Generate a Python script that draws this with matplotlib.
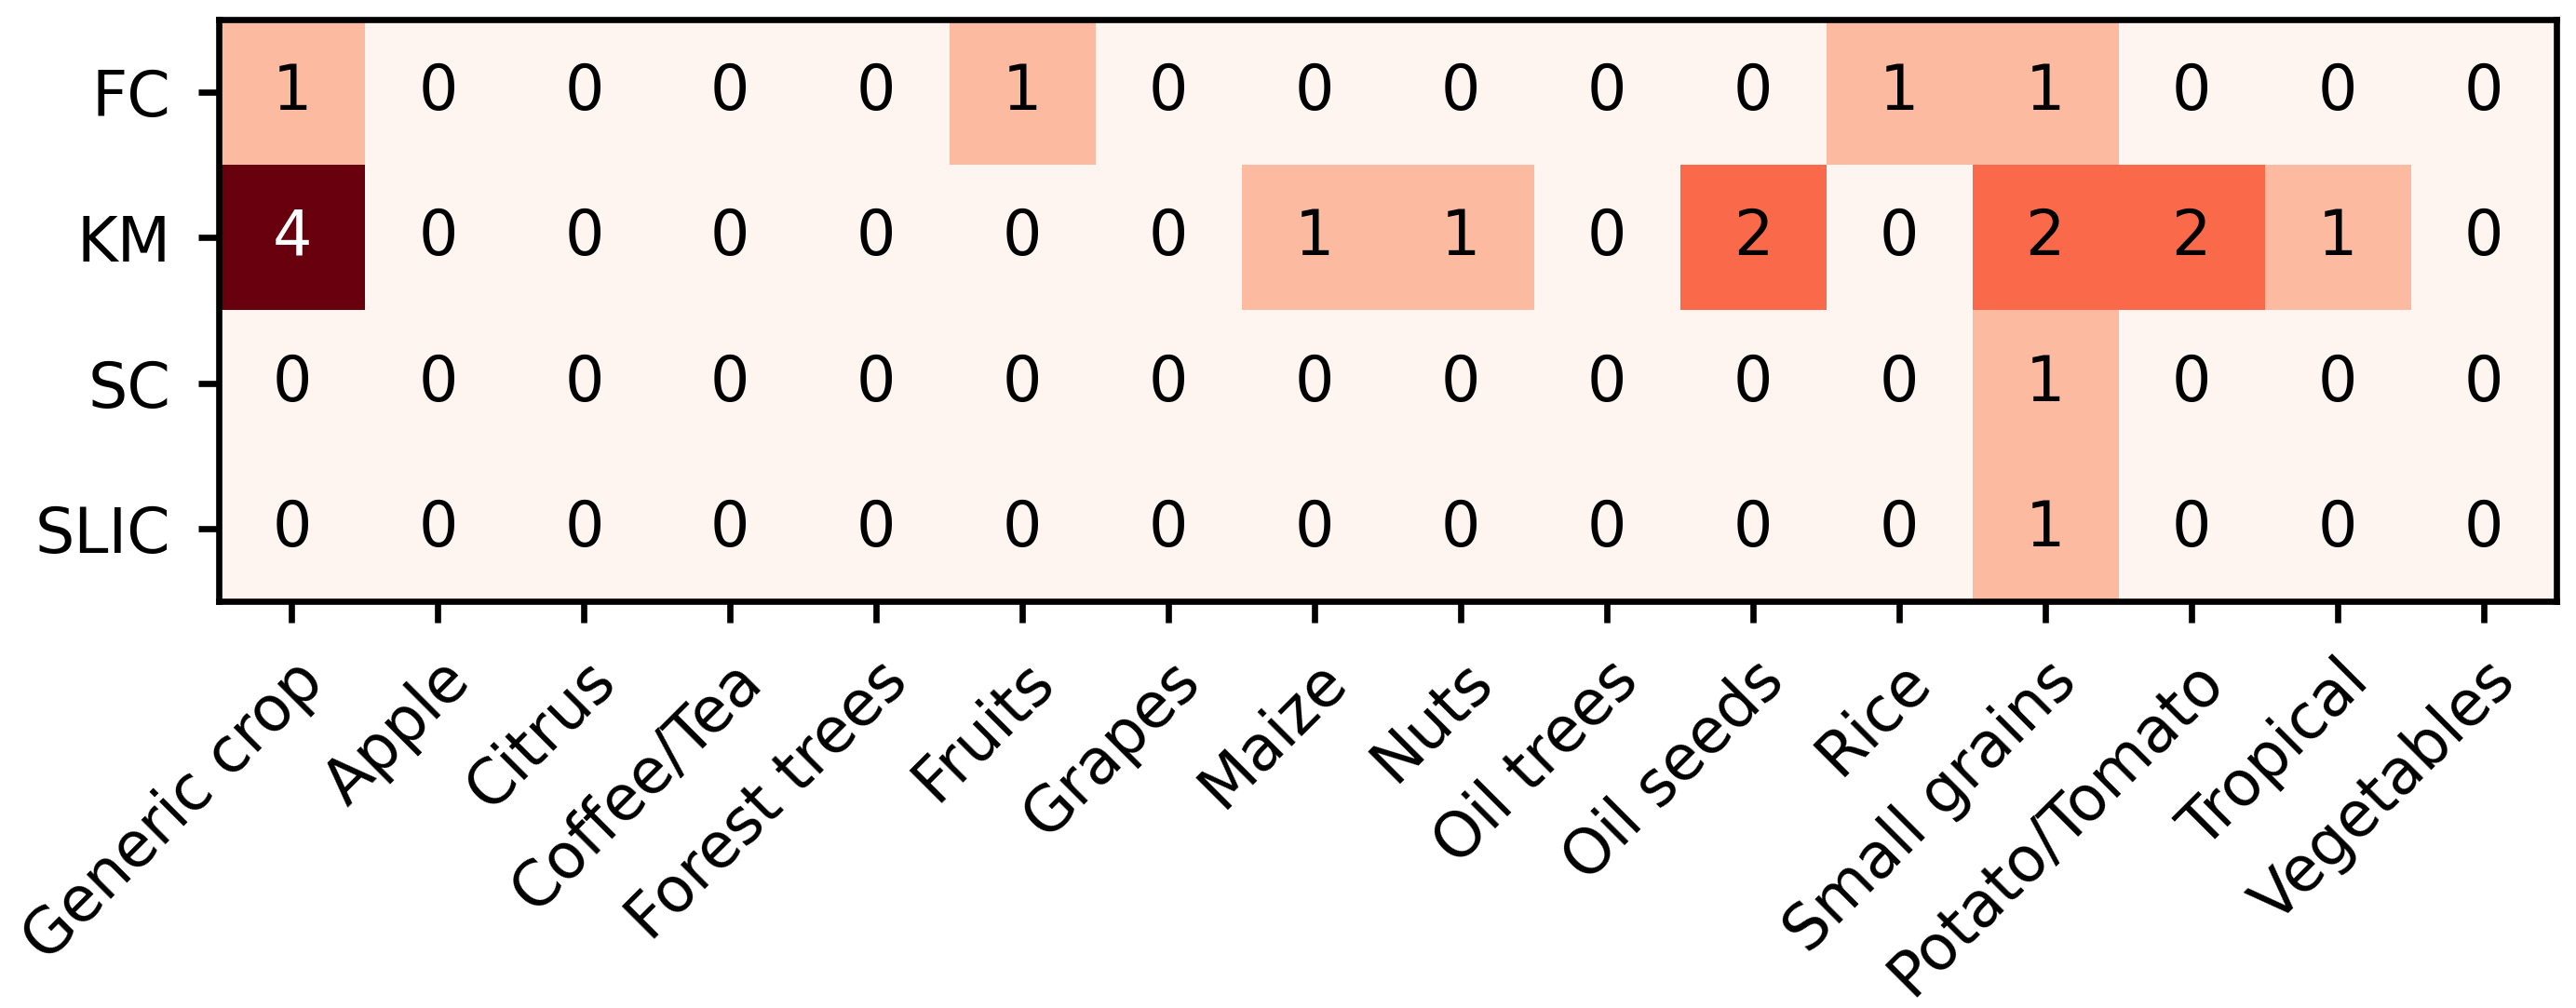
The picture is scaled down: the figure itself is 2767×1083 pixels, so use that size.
import matplotlib
matplotlib.use("Agg")
import matplotlib.pyplot as plt
import numpy as np

rows = ["FC", "KM", "SC", "SLIC"]
crops = ["Generic crop", "Apple", "Citrus", "Coffee/Tea", "Forest trees", "Fruits",
         "Grapes", "Maize", "Nuts", "Oil trees", "Oil seeds", "Rice", "Small grains",
         "Potato/Tomato", "Tropical", "Vegetables"]
fc = [1, 0, 0, 0, 0, 1, 0, 0, 0, 0, 0, 1, 1, 0, 0, 0]
km = [4, 0, 0, 0, 0, 0, 0, 1, 1, 0, 2, 0, 2, 2, 1, 0]
sc = [0, 0, 0, 0, 0, 0, 0, 0, 0, 0, 0, 0, 1, 0, 0, 0]
slic = [0, 0, 0, 0, 0, 0, 0, 0, 0, 0, 0, 0, 1, 0, 0, 0]

data = np.array([fc, km, sc, slic])

W, H = 2767, 1083
dpi = 600
fig = plt.figure(figsize=(W / dpi, H / dpi), dpi=dpi)
ax = fig.add_axes([235 / W, 1 - 646 / H, (2746 - 235) / W, (646 - 21) / H])
ax.imshow(data, cmap="Reds", vmin=0, vmax=4, aspect="auto", interpolation="nearest")

fs = 8
for i in range(data.shape[0]):
    for j in range(data.shape[1]):
        v = data[i, j]
        ax.text(j, i, str(v), ha="center", va="center", fontsize=fs,
                color="white" if v >= 3 else "black")

ax.set_xticks(np.arange(len(crops)))
ax.set_xticklabels(crops, rotation=45, ha="right", rotation_mode="anchor", fontsize=fs)
ax.set_yticks(np.arange(len(rows)))
ax.set_yticklabels(rows, fontsize=fs)
ax.tick_params(length=2.7, width=0.8)
for s in ax.spines.values():
    s.set_linewidth(0.8)

fig.savefig("out.png", dpi=dpi)
